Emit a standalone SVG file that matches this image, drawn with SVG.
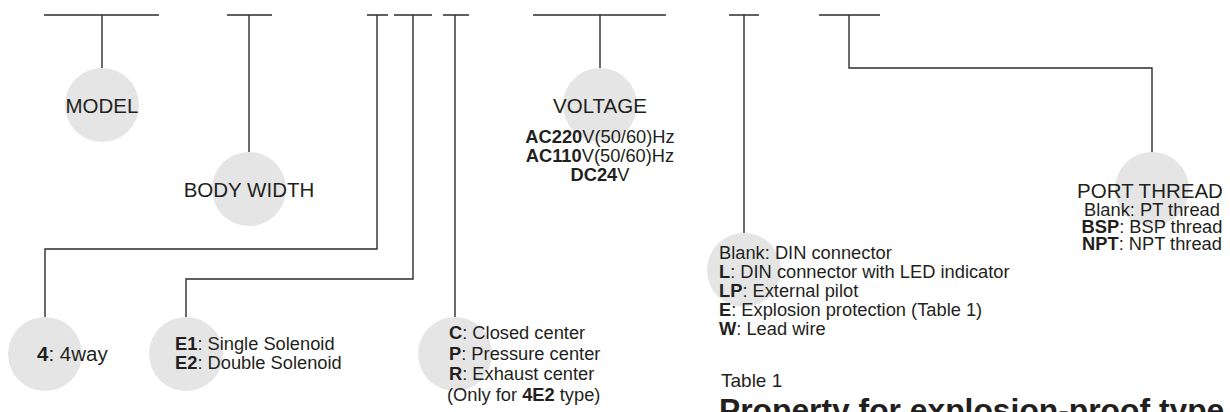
<svg xmlns="http://www.w3.org/2000/svg" width="1230" height="412" viewBox="0 0 1230 412">
<style>
.ln{fill:none;stroke:#2f2c2c;stroke-width:1.4;}
.bub{fill:#e5e5e5;}
text{font-family:"Liberation Sans",Arial,sans-serif;fill:#231f20;}
.t{font-size:20.5px;}
.s{font-size:18.3px;}
.b{font-weight:bold;}
.c{text-anchor:middle;}
</style>
<rect width="1230" height="412" fill="#ffffff"/>
<g id="connectors">
<path class="ln" d="M44 15H159M102 15V68"/>
<path class="ln" d="M227 15H272M249 15V152"/>
<path class="ln" d="M367 15H388M377 15V249H45V317"/>
<path class="ln" d="M394 15H432M413 15V279H186V317"/>
<path class="ln" d="M443 15H469M455 15V317"/>
<path class="ln" d="M533 15H666M600 15V68"/>
<path class="ln" d="M729 15H759M744 15V233"/>
<path class="ln" d="M819 15H880M849 15V68H1152V152"/>
</g>
<g id="model">
<circle class="bub" cx="102" cy="105" r="37"/>
<text class="t c" x="102" y="113">MODEL</text>
</g>
<g id="body-width">
<circle class="bub" cx="249" cy="189" r="37"/>
<text class="t c" x="249" y="197">BODY WIDTH</text>
</g>
<g id="voltage">
<circle class="bub" cx="600" cy="105" r="37"/>
<text class="t c" x="600" y="113">VOLTAGE</text>
<text class="s c" x="600" y="143"><tspan class="b">AC220</tspan>V(50/60)Hz</text>
<text class="s c" x="600" y="162"><tspan class="b">AC110</tspan>V(50/60)Hz</text>
<text class="s c" x="600" y="181"><tspan class="b">DC24</tspan>V</text>
</g>
<g id="port-thread">
<circle class="bub" cx="1152" cy="189" r="37"/>
<text class="t c" x="1150" y="198">PORT THREAD</text>
<text class="s c" x="1152" y="216">Blank: PT thread</text>
<text class="s c" x="1152" y="233"><tspan class="b">BSP</tspan>: BSP thread</text>
<text class="s c" x="1152" y="250"><tspan class="b">NPT</tspan>: NPT thread</text>
</g>
<g id="connector-type">
<circle class="bub" cx="744" cy="270" r="37"/>
<text class="s" x="719" y="259">Blank: DIN connector</text>
<text class="s" x="719" y="278"><tspan class="b">L</tspan>: DIN connector with LED indicator</text>
<text class="s" x="719" y="297"><tspan class="b">LP</tspan>: External pilot</text>
<text class="s" x="719" y="316"><tspan class="b">E</tspan>: Explosion protection (Table 1)</text>
<text class="s" x="719" y="335"><tspan class="b">W</tspan>: Lead wire</text>
</g>
<g id="way">
<circle class="bub" cx="45" cy="354" r="37"/>
<text class="t" x="37" y="361"><tspan class="b">4</tspan>: 4way</text>
</g>
<g id="solenoid">
<circle class="bub" cx="186" cy="354" r="37"/>
<text class="s" x="175" y="350"><tspan class="b">E1</tspan>: Single Solenoid</text>
<text class="s" x="175" y="369"><tspan class="b">E2</tspan>: Double Solenoid</text>
</g>
<g id="center">
<circle class="bub" cx="455" cy="354" r="37"/>
<text class="s" x="449" y="339"><tspan class="b">C</tspan>: Closed center</text>
<text class="s" x="449" y="359.5"><tspan class="b">P</tspan>: Pressure center</text>
<text class="s" x="449" y="379.5"><tspan class="b">R</tspan>: Exhaust center</text>
<text class="s" x="447" y="400.5">(Only for <tspan class="b">4E2</tspan> type)</text>
</g>
<g id="table-title">
<text class="s" x="721" y="387" style="font-size:19px">Table 1</text>
<text x="719" y="421" style="font-size:31.8px;font-weight:bold">Property for explosion-proof type</text>
</g>
</svg>
